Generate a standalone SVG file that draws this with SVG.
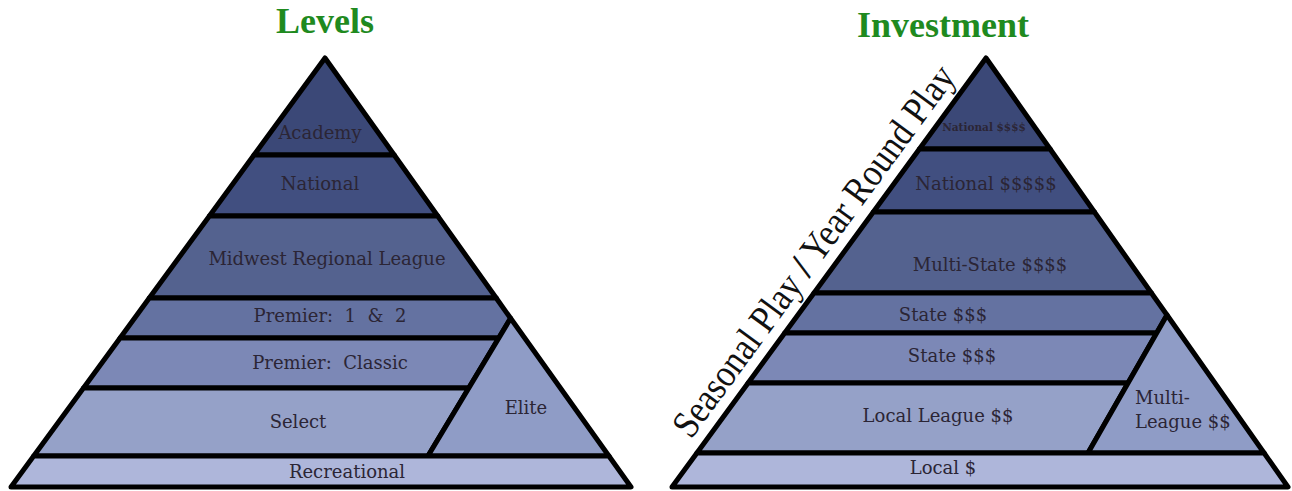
<svg xmlns="http://www.w3.org/2000/svg" width="1292" height="491" viewBox="0 0 1292 491">
<style>
.band{stroke:#000;stroke-width:5;stroke-linejoin:round}
.b1{fill:#3b4877}.b2{fill:#414f80}.b3{fill:#54628f}.b4{fill:#6472a1}.b5{fill:#7c88b6}.b6{fill:#95a1c8}.b7{fill:#8f9cc6}.b8{fill:#aeb6da}
.lbl{font-family:"DejaVu Serif","Liberation Serif",serif;font-size:18px;fill:#2b2535;text-anchor:middle;white-space:pre}
.ttl{font-family:"Liberation Serif",serif;font-weight:bold;font-size:36px;fill:#1f8a1f;text-anchor:middle}
.side{font-family:"Liberation Serif",serif;font-size:39px;fill:#111}
</style>
<rect width="1292" height="491" fill="#fff"/>
<text class="ttl" x="325" y="33">Levels</text>
<text class="ttl" x="943" y="37">Investment</text>

<g id="levels">
<g id="academy"><polygon class="band b1" points="325,58 394.2,155 254,155"/><text class="lbl" x="320" y="139">Academy</text></g>
<g id="national"><polygon class="band b2" points="254,155 394.2,155 437.7,216 209.4,216"/><text class="lbl" x="320" y="190">National</text></g>
<g id="midwest"><polygon class="band b3" points="209.4,216 437.7,216 496.2,298 149.3,298"/><text class="lbl" x="327" y="265">Midwest Regional League</text></g>
<g id="premier12"><polygon class="band b4" points="149.3,298 496.2,298 510.6,318.3 498.8,338 120.1,338"/><text class="lbl" x="330" y="322" xml:space="preserve">Premier:  1  &amp;  2</text></g>
<g id="classic"><polygon class="band b5" points="120.1,338 498.8,338 468.8,388 83.5,388"/><text class="lbl" x="330" y="369" xml:space="preserve">Premier:  Classic</text></g>
<g id="select"><polygon class="band b6" points="83.5,388 468.8,388 428,456 33.7,456"/><text class="lbl" x="298" y="428">Select</text></g>
<g id="elite"><polygon class="band b7" points="510.6,318.3 608.9,456 428,456"/><text class="lbl" x="526" y="414">Elite</text></g>
<g id="recreational"><polygon class="band b8" points="33.7,456 608.9,456 631,487 11,487"/><text class="lbl" x="347" y="478">Recreational</text></g>
</g>

<g id="investment">
<g id="inv-national-top"><polygon class="band b1" points="986,58 1050.1,149 919.4,149"/><text class="lbl" x="984" y="131" style="font-size:10.5px;font-weight:bold">National $$$$</text></g>
<g id="inv-national"><polygon class="band b2" points="919.4,149 1050.1,149 1094.4,212 873.3,212"/><text class="lbl" x="986" y="190">National $$$$$</text></g>
<g id="inv-multistate"><polygon class="band b3" points="873.3,212 1094.4,212 1151.4,293 814,293"/><text class="lbl" x="990" y="271">Multi-State $$$$</text></g>
<g id="inv-state1"><polygon class="band b4" points="814,293 1151.4,293 1167,315 1156.7,333 784.7,333"/><text class="lbl" x="943" y="321">State $$$</text></g>
<g id="inv-state2"><polygon class="band b5" points="784.7,333 1156.7,333 1128,383 748.1,383"/><text class="lbl" x="952" y="362">State $$$</text></g>
<g id="inv-local-league"><polygon class="band b6" points="748.1,383 1128,383 1088,453 696.9,453"/><text class="lbl" x="938" y="422">Local League $$</text></g>
<g id="inv-multi-league"><polygon class="band b7" points="1167,315 1264.1,453 1088,453"/><text class="lbl" x="1135" y="404" style="text-anchor:start">Multi-</text><text class="lbl" x="1135" y="428" style="text-anchor:start">League $$</text></g>
<g id="inv-local"><polygon class="band b8" points="696.9,453 1264.1,453 1288,487 672,487"/><text class="lbl" x="943" y="474">Local $</text></g>
</g>

<text class="side" transform="translate(691,440) rotate(-53.8)" textLength="450" lengthAdjust="spacingAndGlyphs">Seasonal Play <tspan font-weight="bold">/</tspan> Year Round Play</text>
</svg>
